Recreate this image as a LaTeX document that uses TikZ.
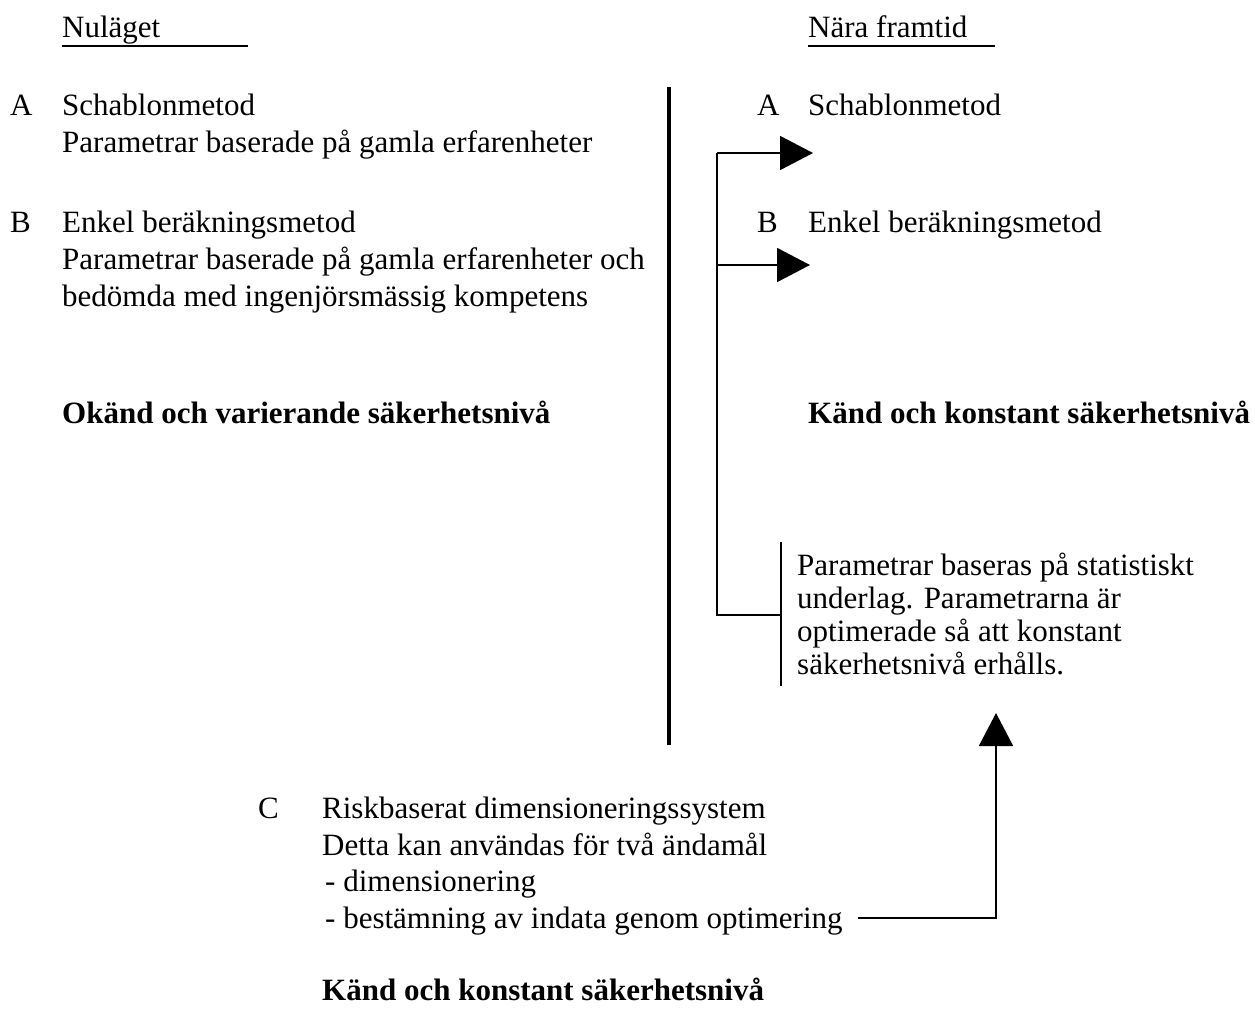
\documentclass[tikz,border=0pt]{standalone}
\usepackage{fontspec}
\setmainfont{Liberation Serif}
\usetikzlibrary{arrows.meta}
\begin{document}
\begin{tikzpicture}[x=1pt,y=-1pt,
  txt/.style={anchor=base west, inner sep=0pt, font=\fontsize{31}{37}\selectfont},
  bld/.style={anchor=base west, inner sep=0pt, font=\fontsize{31}{37}\selectfont\bfseries},
  uline/.style={line width=2pt},
  divider/.style={line width=4pt},
  bracket/.style={line width=1.8pt},
  thinline/.style={line width=1.2pt},
  bigarrow/.style={line width=1.8pt, -{Triangle[length=33pt,width=34pt]}}]
\useasboundingbox (0,0) rectangle (1255,1009);

% headings
\node[txt] (nul) at (62,37) {Nuläget};
\coordinate (nulA) at (62,46);
\coordinate (nulB) at (248,46);
\draw[uline] (nulA) -- (nulB);
\node[txt] (nara) at (808,37) {Nära framtid};
\coordinate (naraA) at (808,46);
\coordinate (naraB) at (995,46);
\draw[uline] (naraA) -- (naraB);

% left column
\node[txt] (lA) at (10,115) {A};
\node[txt] (lAt) at (62,115) {Schablonmetod};
\node[txt] (lAp) at (62,152) {Parametrar baserade på gamla erfarenheter};
\node[txt] (lB) at (10,232) {B};
\node[txt] (lBt) at (62,232) {Enkel beräkningsmetod};
\node[txt] (lBp) at (62,269) {Parametrar baserade på gamla erfarenheter och};
\node[txt] (lBq) at (62,306) {bedömda med ingenjörsmässig kompetens};
\node[bld] (lK) at (62,423) {Okänd och varierande säkerhetsnivå};

% divider
\coordinate (divT) at (669,87);
\coordinate (divB) at (669,745);
\draw[divider] (divT) -- (divB);

% right column
\node[txt] (rA) at (757,115) {A};
\node[txt] (rAt) at (808,115) {Schablonmetod};
\node[txt] (rB) at (757,232) {B};
\node[txt] (rBt) at (808,232) {Enkel beräkningsmetod};
\node[bld] (rK) at (808,423) {Känd och konstant säkerhetsnivå};

% bracket with arrows
\coordinate (brT) at (717,153);
\coordinate (brM) at (717,265);
\coordinate (brB) at (717,615);
\coordinate (tipA) at (813,153);
\coordinate (tipB) at (810,265);
\coordinate (boxJ) at (781,615);
\draw[bracket] (brT) -- (brB) -- (boxJ);
\draw[bigarrow] (brT) -- (tipA);
\draw[bigarrow] (brM) -- (tipB);

% text box with side line
\coordinate (boxT) at (781,542);
\coordinate (boxE) at (781,686);
\draw[thinline] (boxT) -- (boxE);
\node[txt] (p1) at (797,575) {Parametrar baseras på statistiskt};
\node[txt] (p2) at (797,608) {underlag. Parametrarna är};
\node[txt] (p3) at (797,641) {optimerade så att konstant};
\node[txt] (p4) at (797,674) {säkerhetsnivå erhålls.};

% bottom block
\node[txt] (cC) at (258,818) {C};
\node[txt] (c1) at (322,818) {Riskbaserat dimensioneringssystem};
\node[txt] (c2) at (322,855) {Detta kan användas för två ändamål};
\node[txt] (c3) at (325,891) {- dimensionering};
\node[txt] (c4) at (325,928) {- bestämning av indata genom optimering};
\node[bld] (cK) at (322,1000) {Känd och konstant säkerhetsnivå};

% up arrow
\coordinate (upS) at (858,918);
\coordinate (upC) at (996,918);
\coordinate (upT) at (996,713);
\draw[bigarrow] (upS) -- (upC) -- (upT);
\end{tikzpicture}
\end{document}
